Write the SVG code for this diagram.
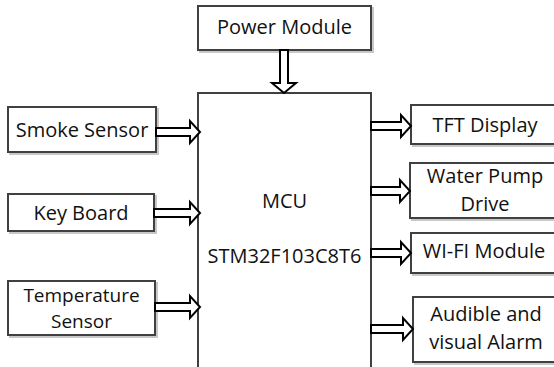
<svg xmlns="http://www.w3.org/2000/svg" width="554" height="367" viewBox="0 0 554 367">
  <style>
    .box { fill: #ffffff; stroke: #404040; stroke-width: 2; }
    .shadow { fill: none; stroke: #c8c8c8; stroke-width: 2; }
    .txt { font-family: "Open Sans", "Noto Sans", sans-serif; font-size: 20px; fill: #111111; text-anchor: middle; }
    .sm { font-size: 19px; }
    .arrow { fill: #ffffff; stroke: #000000; stroke-width: 2; stroke-linejoin: miter; }
  </style>
  <rect x="0" y="0" width="554" height="367" fill="#ffffff"/>

  <g id="power-module">
    <rect class="shadow" x="200" y="8" width="173" height="44"/>
    <rect class="box" x="198" y="6" width="173" height="44"/>
    <text class="txt" x="284.5" y="34">Power Module</text>
  </g>

  <g id="mcu">
    <rect class="box" x="198" y="93" width="173" height="275"/>
    <text class="txt" x="284.5" y="208">MCU</text>
    <text class="txt" x="284.5" y="263">STM32F103C8T6</text>
  </g>

  <g id="smoke-sensor">
    <rect class="shadow" x="10" y="109" width="148" height="45"/>
    <rect class="box" x="8" y="107" width="148" height="45"/>
    <text class="txt" x="82" y="137">Smoke Sensor</text>
  </g>

  <g id="key-board">
    <rect class="shadow" x="10" y="196" width="146" height="37"/>
    <rect class="box" x="8" y="194" width="146" height="37"/>
    <text class="txt" x="81" y="220">Key Board</text>
  </g>

  <g id="temperature-sensor">
    <rect class="shadow" x="10" y="283" width="147" height="54"/>
    <rect class="box" x="8" y="281" width="147" height="54"/>
    <text class="txt sm" x="81.5" y="302">Temperature</text>
    <text class="txt sm" x="81.5" y="328">Sensor</text>
  </g>

  <g id="tft-display">
    <rect class="shadow" x="413" y="107" width="150" height="39"/>
    <rect class="box" x="411" y="105" width="150" height="39"/>
    <text class="txt" x="485" y="132">TFT Display</text>
  </g>

  <g id="water-pump-drive">
    <rect class="shadow" x="412" y="165" width="150" height="55"/>
    <rect class="box" x="410" y="163" width="150" height="55"/>
    <text class="txt" x="485" y="183">Water Pump</text>
    <text class="txt" x="485" y="211">Drive</text>
  </g>

  <g id="wifi-module">
    <rect class="shadow" x="413" y="235" width="150" height="40"/>
    <rect class="box" x="411" y="233" width="150" height="40"/>
    <text class="txt" x="484" y="258">WI-FI Module</text>
  </g>

  <g id="audible-visual-alarm">
    <rect class="shadow" x="415" y="299" width="150" height="65"/>
    <rect class="box" x="413" y="297" width="150" height="65"/>
    <text class="txt" x="486" y="321">Audible and</text>
    <text class="txt" x="486" y="349">visual Alarm</text>
  </g>

  <g id="connectors">
    <!-- Power Module to MCU (down) -->
    <path class="arrow" d="M280,50 L288,50 L288,83 L296,83 L284,93 L272,83 L280,83 Z"/>
    <!-- Inputs to MCU -->
    <path class="arrow" d="M156,128 L190,128 L190,121 L200,132 L190,143 L190,136 L156,136 Z"/>
    <path class="arrow" d="M154,209 L190,209 L190,202 L200,213 L190,224 L190,217 L154,217 Z"/>
    <path class="arrow" d="M155,303 L190,303 L190,296 L200,307 L190,318 L190,311 L155,311 Z"/>
    <!-- MCU to outputs -->
    <path class="arrow" d="M371,122 L401,122 L401,115 L411,126 L401,137 L401,130 L371,130 Z"/>
    <path class="arrow" d="M371,187 L400,187 L400,180 L410,191 L400,202 L400,195 L371,195 Z"/>
    <path class="arrow" d="M371,249 L401,249 L401,242 L411,253 L401,264 L401,257 L371,257 Z"/>
    <path class="arrow" d="M371,325 L403,325 L403,318 L413,329 L403,340 L403,333 L371,333 Z"/>
  </g>
</svg>
